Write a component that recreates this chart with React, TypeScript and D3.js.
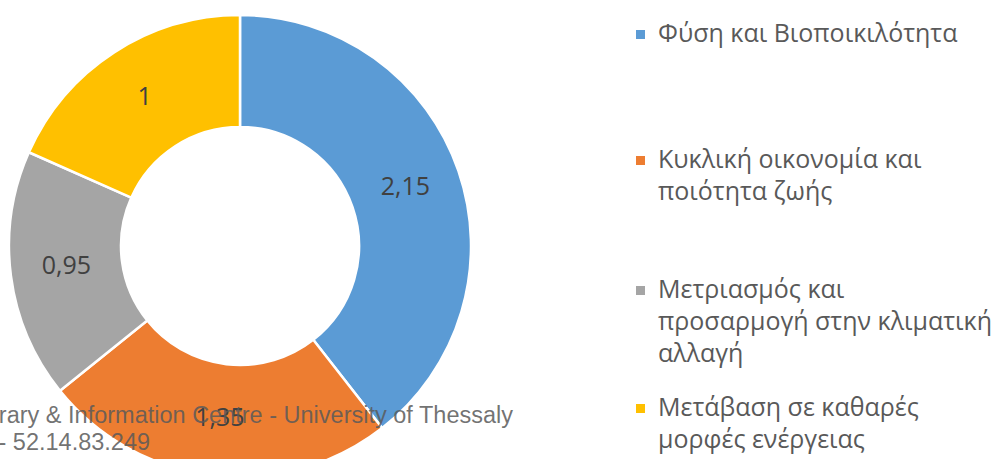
import React, { useEffect, useRef } from 'react';
import * as d3 from 'd3';

const categories = [
  'Φύση και Βιοποικιλότητα',
  'Κυκλική οικονομία και ποιότητα ζωής',
  'Μετριασμός και προσαρμογή στην κλιματική αλλαγή',
  'Μετάβαση σε καθαρές μορφές ενέργειας',
];
const values = [2.15, 1.35, 0.95, 1];
const valueLabels = ['2,15', '1,35', '0,95', '1'];
const legendLines = [
  ['Φύση και Βιοποικιλότητα'],
  ['Κυκλική οικονομία και', 'ποιότητα ζωής'],
  ['Μετριασμός και', 'προσαρμογή στην κλιματική', 'αλλαγή'],
  ['Μετάβαση σε καθαρές', 'μορφές ενέργειας'],
];
const legendY = [34, 160, 290, 408];
const colors = ['#5B9BD5', '#ED7D31', '#A5A5A5', '#FFC000'];

const W = 1002;
const H = 459;

export default function App() {
  const ref = useRef<SVGSVGElement>(null);

  useEffect(() => {
    const svg = d3.select(ref.current);
    svg.selectAll('*').remove();

    const cx = 240, cy = 246;
    const outer = 231, inner = 119;

    const pie = d3.pie<number>().sort(null).value(d => d);
    const arc = d3.arc<d3.PieArcDatum<number>>().innerRadius(inner).outerRadius(outer);
    const arcs = pie(values);

    const g = svg.append('g').attr('transform', `translate(${cx},${cy})`);
    g.selectAll('path.slice')
      .data(arcs)
      .enter()
      .append('path')
      .attr('class', 'slice')
      .attr('d', arc)
      .attr('fill', (d, i) => colors[i])
      .attr('stroke', '#fff')
      .attr('stroke-width', 2.5);

    g.selectAll('text.val')
      .data(arcs)
      .enter()
      .append('text')
      .attr('class', 'val')
      .attr('transform', d => {
        const [x, y] = arc.centroid(d);
        return `translate(${x},${y - 3})`;
      })
      .attr('text-anchor', 'middle')
      .attr('dy', '0.35em')
      .attr('font-family', 'Open Sans, sans-serif')
      .attr('font-size', 25)
      .attr('fill', '#404040')
      .text((d, i) => valueLabels[i]);

    // legend
    const leg = svg.append('g');
    categories.forEach((c, i) => {
      const item = leg.append('g').attr('transform', `translate(636,${legendY[i]})`);
      item.append('rect')
        .attr('x', 0).attr('y', -4)
        .attr('width', 9).attr('height', 9)
        .attr('fill', colors[i]);
      legendLines[i].forEach((line, j) => {
        item.append('text')
          .attr('x', 22)
          .attr('y', j * 32)
          .attr('dy', '0.33em')
          .attr('font-family', 'Open Sans, sans-serif')
          .attr('font-size', 25)
          .attr('fill', '#595959')
          .text(line);
      });
    });

    // watermark
    const wm = svg.append('g')
      .attr('font-family', 'Liberation Sans, Arial, sans-serif')
      .attr('font-size', 23.5)
      .attr('fill', '#5a5a5a')
      .attr('fill-opacity', 0.85);
    wm.append('text').attr('x', 513).attr('y', 423).attr('text-anchor', 'end')
      .text('Library & Information Centre - University of Thessaly');
    wm.append('text').attr('x', -1.5).attr('y', 450)
      .text('- 52.14.83.249');
  }, []);

  return (
    <svg
      ref={ref}
      width={W}
      height={H}
      style={{ position: 'absolute', left: 0, top: 0, background: '#fff' }}
    />
  );
}
